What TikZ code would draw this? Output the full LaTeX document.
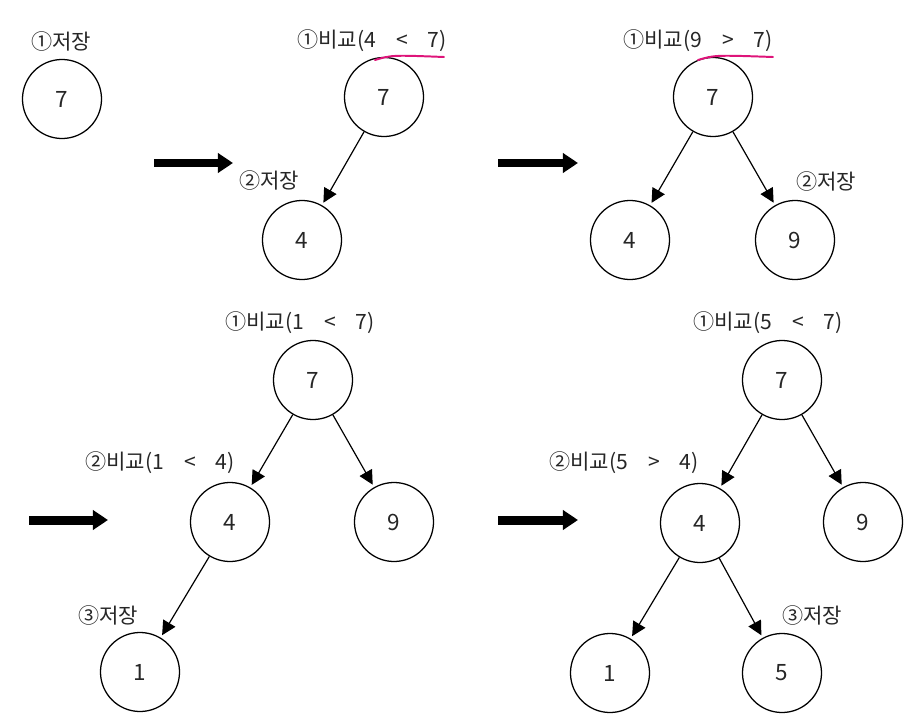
\documentclass[tikz,border=0pt]{standalone}
\usepackage{fontspec}
\setmainfont{Noto Sans CJK KR}
\usepackage{tikz}
\usetikzlibrary{arrows.meta}
\definecolor{marker}{RGB}{222,20,122}
\newcommand{\gap}{\hspace{0.95em}}

\begin{document}
\begin{tikzpicture}[x=0.025cm,y=-0.025cm]
\useasboundingbox (0,0) rectangle (909,716);

\begin{scope}[every node/.style={circle,draw,line width=0.9pt,minimum size=1.975cm,inner sep=0pt,font=\fontsize{16}{19}\selectfont,text=black!85}]
    % panel 1
    \node (a7) at (62,99) {7};
    % panel 2
    \node (b7) at (384,97) {7};
    \node (b4) at (302,240) {4};
    % panel 3
    \node (c7) at (713,97) {7};
    \node (c4) at (630,240) {4};
    \node (c9) at (795,240) {9};
    % panel 4
    \node (d7) at (313,380) {7};
    \node (d4) at (230,522) {4};
    \node (d9) at (394,522) {9};
    \node (d1) at (140,672) {1};
    % panel 5
    \node (e7) at (782,380) {7};
    \node (e4) at (700,523) {4};
    \node (e9) at (863,522) {9};
    \node (e1) at (610,673) {1};
    \node (e5) at (782,673) {5};
\end{scope}

\begin{scope}[every node/.style={inner sep=0pt,font=\fontsize{15}{18}\selectfont,text=black!85}]
    \node (la1) at (61,41) {①저장};
    \node (lb1) at (372,41) {①비교(4\gap<\gap7)};
    \node (lb2) at (269,180) {②저장};
    \node (lc1) at (698,41) {①비교(9\gap>\gap7)};
    \node (lc2) at (826,181) {②저장};
    \node (ld1) at (300,323) {①비교(1\gap<\gap7)};
    \node (ld2) at (160,463) {②비교(1\gap<\gap4)};
    \node (ld3) at (108,615) {③저장};
    \node (le1) at (768,323) {①비교(5\gap<\gap7)};
    \node (le2) at (624,463) {②비교(5\gap>\gap4)};
    \node (le3) at (812,615) {③저장};
\end{scope}

\begin{scope}[every edge/.style={draw=black,line width=0.85pt,shorten >=2pt,-{Triangle[length=10pt,width=10pt]}}]
    \path (b7) edge (b4);
    \path (c7) edge (c4);
    \path (c7) edge (c9);
    \path (d7) edge (d4);
    \path (d7) edge (d9);
    \path (d4) edge (d1);
    \path (e7) edge (e4);
    \path (e7) edge (e9);
    \path (e4) edge (e1);
    \path (e4) edge (e5);
\end{scope}

% big arrows between steps
\coordinate (s1) at (154,163); \coordinate (t1) at (233,163);
\coordinate (s2) at (498,163); \coordinate (t2) at (578,163);
\coordinate (s3) at (29,520);  \coordinate (t3) at (108,520);
\coordinate (s4) at (498,520); \coordinate (t4) at (578,520);
\foreach \i in {1,...,4}
    \draw[line width=6.4pt,-{Triangle[length=10.7pt,width=13.5pt]}] (s\i) -- (t\i);

% pen marks under the comparisons
\draw[marker,line width=1.4pt,line cap=round] (375,60) .. controls (392,55) .. (444,57);
\draw[marker,line width=1.4pt,line cap=round] (698,60) .. controls (715,55) .. (773,57);
\end{tikzpicture}
\end{document}
